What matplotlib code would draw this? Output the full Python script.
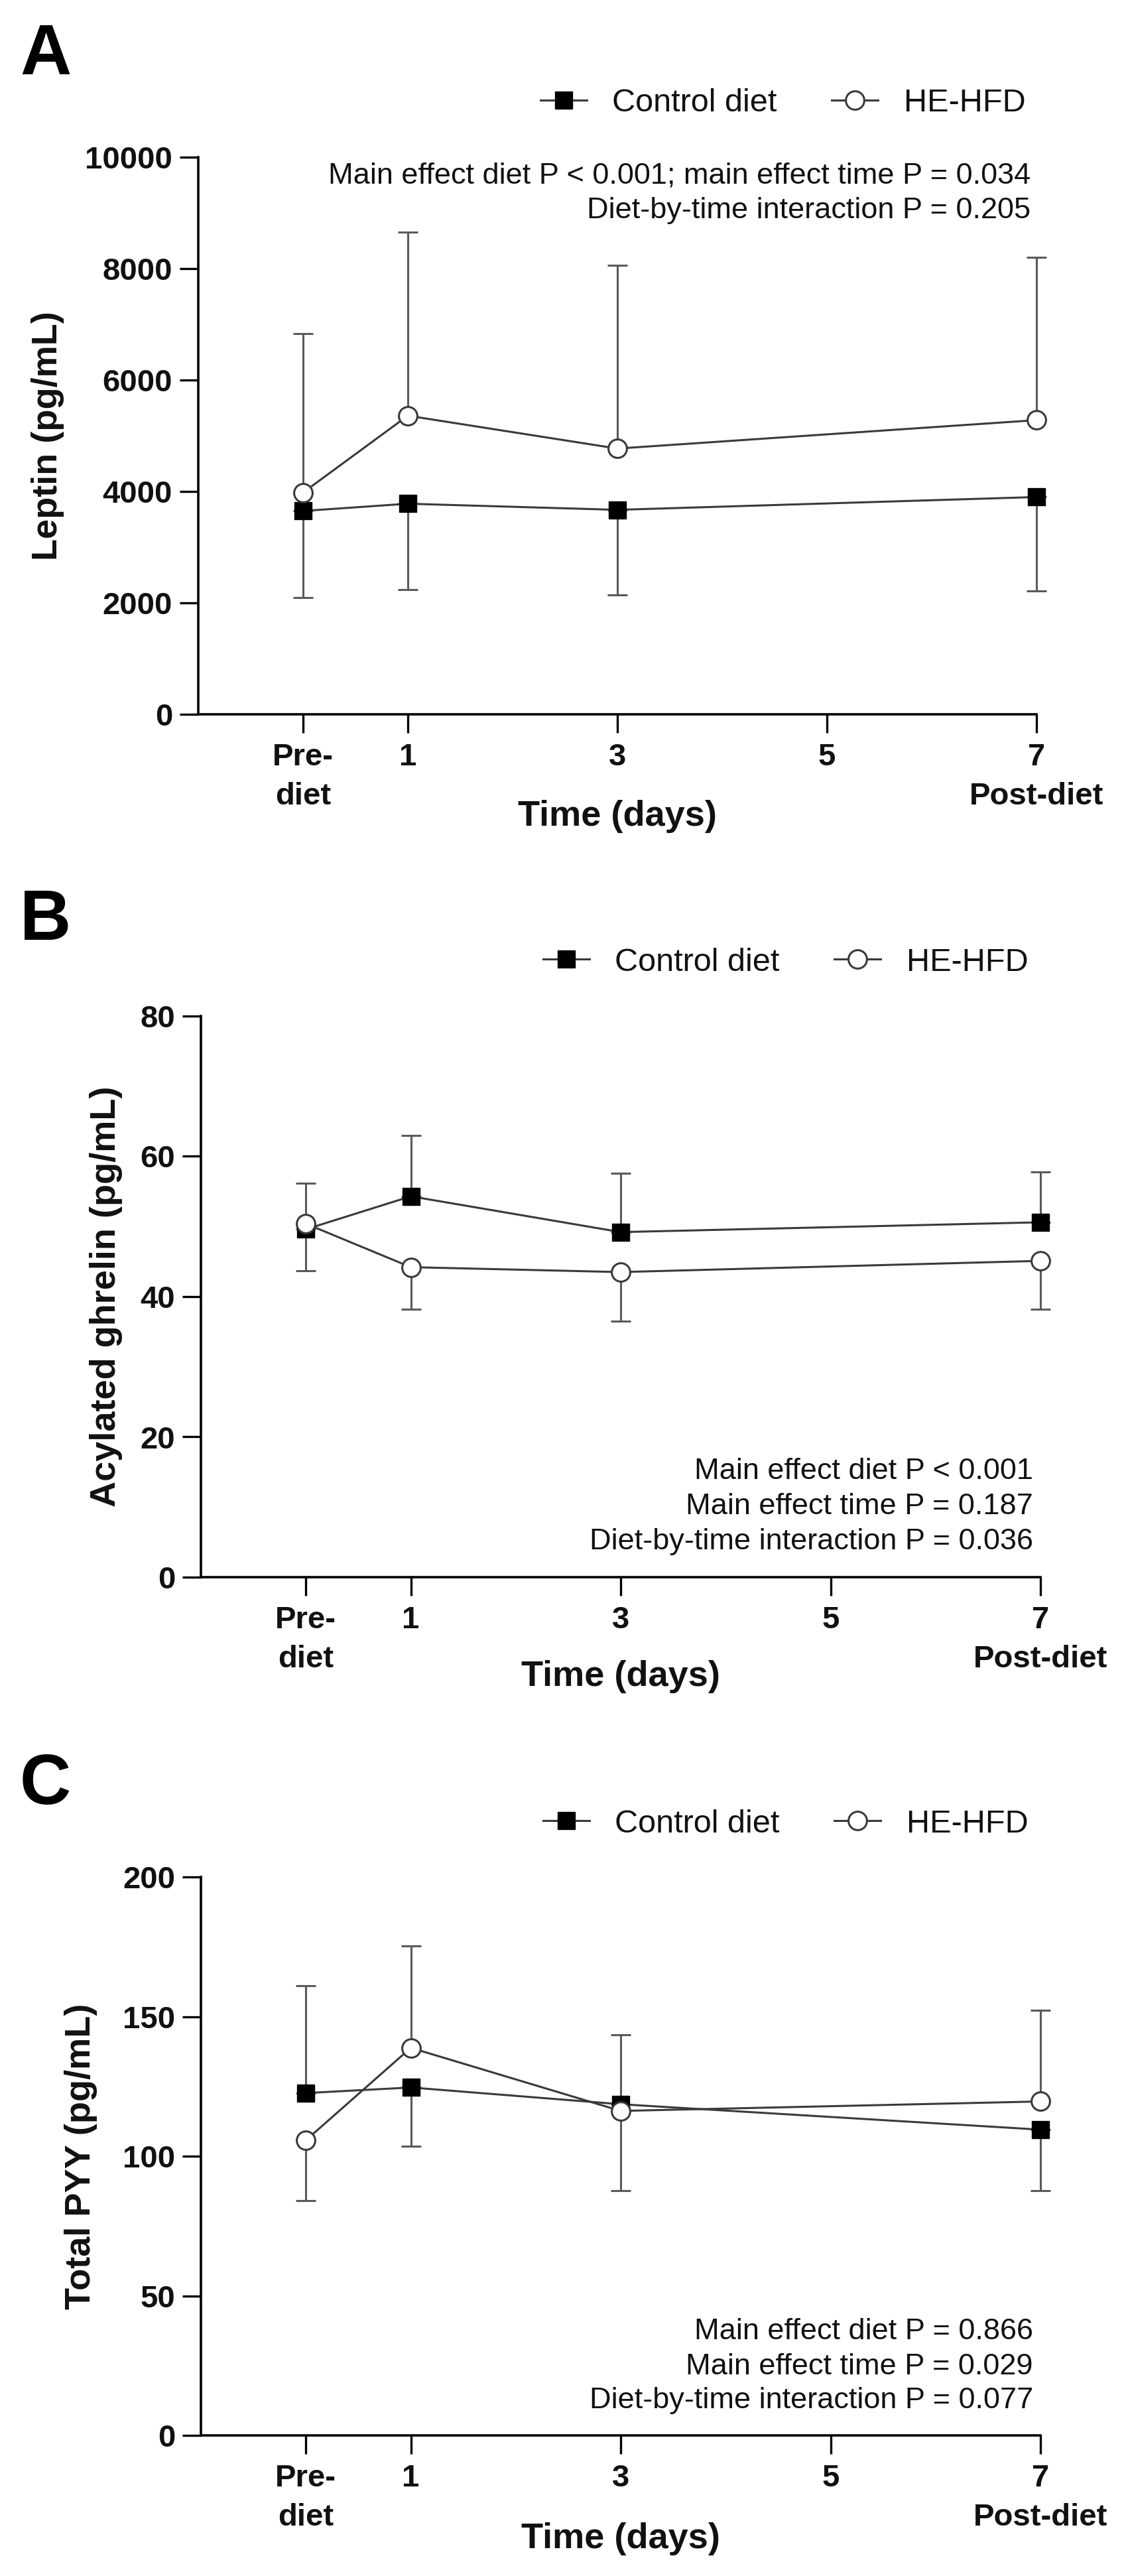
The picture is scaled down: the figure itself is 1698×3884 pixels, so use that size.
import matplotlib
matplotlib.use("Agg")
import matplotlib.pyplot as plt
import numpy as np

plt.rcParams['font.family'] = ['Liberation Sans', 'DejaVu Sans']

# ---------------- data ----------------
days = [0, 1, 3, 7]
xtick_pos = [0, 1, 3, 5, 7]
xtick_labels = ["Pre-\ndiet", "1", "3", "5", "7\nPost-diet"]
series_names = ["Control diet", "HE-HFD"]

# Leptin (pg/mL)
lep_ctrl = [3650, 3780, 3670, 3900]
lep_ctrl_up = [0, 0, 0, 0]
lep_ctrl_dn = [1560, 1540, 1530, 1680]
lep_he = [3980, 5360, 4770, 5280]
lep_he_up = [2850, 3300, 3295, 2920]
lep_he_dn = [0, 0, 0, 0]
lep_yticks = [0, 2000, 4000, 6000, 8000, 10000]
lep_notes = ["Main effect diet P < 0.001; main effect time P = 0.034",
             "Diet-by-time interaction P = 0.205"]

# Acylated ghrelin (pg/mL)
ghr_ctrl = [49.6, 54.3, 49.2, 50.6]
ghr_ctrl_up = [6.6, 8.7, 8.4, 7.2]
ghr_ctrl_dn = [0, 0, 0, 0]
ghr_he = [50.4, 44.2, 43.5, 45.1]
ghr_he_up = [0, 0, 0, 0]
ghr_he_dn = [6.7, 6.0, 7.0, 6.9]
ghr_yticks = [0, 20, 40, 60, 80]
ghr_notes = ["Main effect diet P < 0.001",
             "Main effect time P = 0.187",
             "Diet-by-time interaction P = 0.036"]

# Total PYY (pg/mL)
pyy_ctrl = [122.6, 124.6, 118.6, 109.5]
pyy_ctrl_up = [38.4, 0, 24.8, 0]
pyy_ctrl_dn = [0, 21.0, 0, 21.8]
pyy_he = [105.7, 138.8, 116.2, 119.6]
pyy_he_up = [0, 36.4, 0, 32.7]
pyy_he_dn = [21.5, 0, 28.5, 0]
pyy_yticks = [0, 50, 100, 150, 200]
pyy_notes = ["Main effect diet P = 0.866",
             "Main effect time P = 0.029",
             "Diet-by-time interaction P = 0.077"]

# ---------------- layout ----------------
W, H = 1699, 3884
fig = plt.figure(figsize=(W / 100, H / 100), dpi=100)

LINE_C = '#3a3a3a'
ERR_C = '#5a5a5a'
TXT_C = '#111111'


def add_ax(l, r, t, b):
    return fig.add_axes([l / W, 1 - b / H, (r - l) / W, (b - t) / H])


def draw_err(ax, x, y, up, dn, z):
    x = np.asarray(x, float); y = np.asarray(y, float)
    up = np.asarray(up, float); dn = np.asarray(dn, float)
    for err, sign in ((up, 1), (dn, -1)):
        m = err > 0
        if not m.any():
            continue
        if sign > 0:
            yerr = [np.zeros(m.sum()), err[m]]
        else:
            yerr = [err[m], np.zeros(m.sum())]
        ax.errorbar(x[m], y[m], yerr=yerr, fmt='none', ecolor=ERR_C,
                    elinewidth=2.2, capsize=10.5, capthick=2.2, zorder=z,
                    clip_on=False)


def panel(box, letter, letter_base, ylabel, ylabel_x, yticks,
          ctrl, cup, cdn, he, hup, hdn, notes, note_right, note_bases,
          legend_x, legend_y, xlabel_base):
    l, r, t, b = box
    ax = add_ax(l, r, t, b)
    ax.set_xlim(-1, 7)
    ax.set_ylim(yticks[0], yticks[-1])
    draw_err(ax, days, ctrl, cup, cdn, 2)
    draw_err(ax, days, he, hup, hdn, 2)
    h1, = ax.plot(days, ctrl, color=LINE_C, lw=2.2, marker='s', ms=19,
                  mfc='black', mec='black', mew=1, zorder=3, clip_on=False)
    h2, = ax.plot(days, he, color=LINE_C, lw=2.2, marker='o', ms=20,
                  mfc='white', mec=LINE_C, mew=2.2, zorder=4, clip_on=False)
    for s in ('top', 'right'):
        ax.spines[s].set_visible(False)
    for s in ('left', 'bottom'):
        ax.spines[s].set_linewidth(2.6)
        ax.spines[s].set_color('black')
    ax.set_yticks(yticks)
    ax.set_yticklabels([str(v) for v in yticks])
    ax.set_xticks(xtick_pos)
    ax.set_xticklabels(xtick_labels, linespacing=1.45)
    ax.tick_params(axis='both', length=20, width=2.4, color='black',
                   labelsize=34, labelcolor=TXT_C)
    ax.tick_params(axis='y', pad=8)
    ax.tick_params(axis='x', pad=11)
    for lab in ax.get_xticklabels() + ax.get_yticklabels():
        lab.set_fontweight('bold')
    # axis titles
    fig.text(ylabel_x / W, 1 - ((t + b) / 2) / H, ylabel, rotation=90,
             ha='center', va='center', fontsize=39, fontweight='bold',
             color=TXT_C)
    fig.text(((l + r) / 2) / W, 1 - xlabel_base / H, "Time (days)",
             ha='center', va='baseline', fontsize=39, fontweight='bold',
             color=TXT_C)
    # panel letter
    fig.text(30 / W, 1 - letter_base / H, letter, ha='left', va='baseline',
             fontsize=77, fontweight='bold', color='black')
    # notes
    for txt, yb in zip(notes, note_bases):
        fig.text(note_right / W, 1 - yb / H, txt, ha='right', va='baseline',
                 fontsize=32.5, color=TXT_C)
    # legend
    fig.legend([h1, h2], series_names, loc='center left',
               bbox_to_anchor=(legend_x / W, 1 - legend_y / H),
               bbox_transform=fig.transFigure, ncol=2, frameon=False,
               fontsize=35, handlelength=1.43, handletextpad=0.8,
               columnspacing=1.7, borderpad=0, borderaxespad=0,
               labelcolor=TXT_C)
    return ax


panel((299, 1563, 237, 1077), "A", 112, "Leptin (pg/mL)", 72, lep_yticks,
      lep_ctrl, lep_ctrl_up, lep_ctrl_dn, lep_he, lep_he_up, lep_he_dn,
      lep_notes, 1554, [277, 329], 815, 156, 1245)

panel((303, 1569, 1532, 2378), "B", 1417, "Acylated ghrelin (pg/mL)", 160,
      ghr_yticks, ghr_ctrl, ghr_ctrl_up, ghr_ctrl_dn, ghr_he, ghr_he_up,
      ghr_he_dn, ghr_notes, 1558, [2230, 2283, 2336], 819, 1451, 2542)

panel((303, 1569, 2830, 3672), "C", 2720, "Total PYY (pg/mL)", 122,
      pyy_yticks, pyy_ctrl, pyy_ctrl_up, pyy_ctrl_dn, pyy_he, pyy_he_up,
      pyy_he_dn, pyy_notes, 1558, [3527, 3580, 3631], 819, 2750, 3842)

fig.savefig("out.png", dpi=100, facecolor='white')
